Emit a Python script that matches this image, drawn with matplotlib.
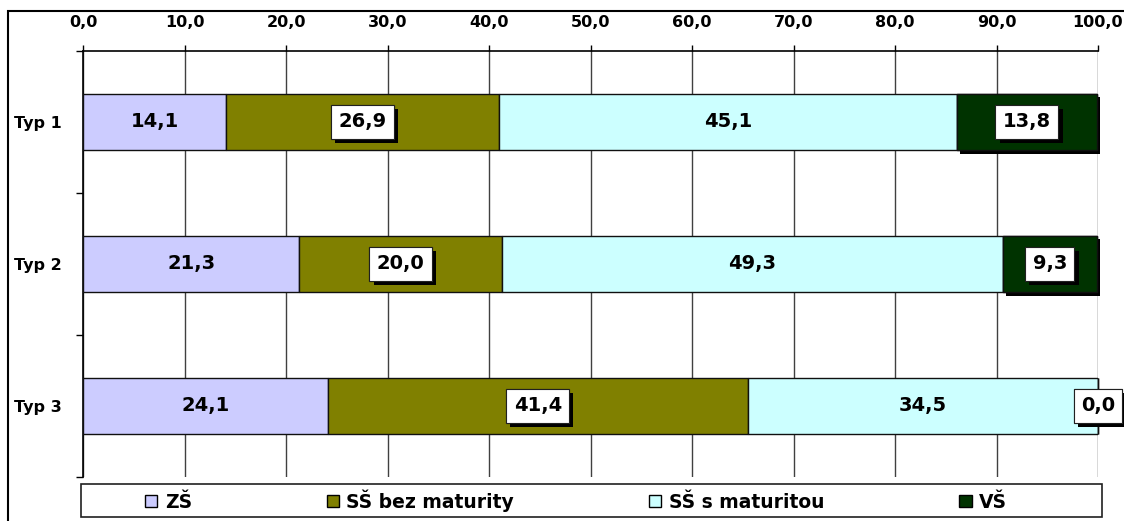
import numpy as np
import matplotlib
matplotlib.use("Agg")
import matplotlib.pyplot as plt
import matplotlib.patheffects as pe
from matplotlib.patches import Rectangle, Patch

# data
types = ["Typ 1", "Typ 2", "Typ 3"]
levels = ["ZŠ", "SŠ bez maturity", "SŠ s maturitou", "VŠ"]
zs = [14.1, 21.3, 24.1]
ss_bez = [26.9, 20.0, 41.4]
ss_mat = [45.1, 49.3, 34.5]
vs = [13.8, 9.3, 0.0]
colors = ["#CCCCFF", "#808000", "#CCFFFF", "#003300"]
boxed = [False, True, False, True]

plt.rcParams["font.family"] = ["DejaVu Sans"]
plt.rcParams["font.weight"] = "bold"

fig = plt.figure(figsize=(11.24, 5.21), dpi=100)
ax = fig.add_axes([83 / 1124, 1 - 477 / 521, 1015 / 1124, 426 / 521])

series = [zs, ss_bez, ss_mat, vs]
y = np.arange(len(types))
left = np.zeros(len(types))

for i, vals in enumerate(series):
    vals = np.array(vals)
    bars = ax.barh(y, vals, left=left, height=0.4, color=colors[i],
                   edgecolor="#101010", linewidth=1, zorder=3, label=levels[i])
    if i == 3:
        for b in bars:
            b.set_clip_on(False)
            b.set_path_effects([
                pe.withSimplePatchShadow(offset=(2.5, -2.5), shadow_rgbFace="black", alpha=1.0),
                pe.Normal()])
    for j, v in enumerate(vals):
        xc = left[j] + v / 2
        txt = f"{v:.1f}".replace(".", ",")
        if boxed[i] or v == 0:
            t = ax.text(xc, y[j], txt, ha="center", va="center", fontsize=14,
                        fontweight="bold", zorder=6,
                        bbox=dict(boxstyle="square,pad=0.38", fc="white",
                                  ec="#202020", lw=0.8))
            t.get_bbox_patch().set_path_effects([
                pe.withSimplePatchShadow(offset=(3, -3), shadow_rgbFace="black", alpha=1.0),
                pe.Normal()])
        else:
            ax.text(xc, y[j], txt, ha="center", va="center", fontsize=14,
                    fontweight="bold", zorder=6)
    left = left + vals

ax.set_xlim(0, 100)
ax.set_ylim(2.5, -0.5)
ax.xaxis.tick_top()
ax.set_xticks(np.arange(0, 101, 10))
ax.set_xticklabels([f"{v:.1f}".replace(".", ",") for v in np.arange(0, 101, 10)])
ax.tick_params(axis="x", length=4, width=1, pad=11, labelsize=11.5, color="black")
ax.set_yticks(y)
ax.set_yticklabels(types)
ax.tick_params(axis="y", which="major", length=0, pad=15, labelsize=11.5)
ax.set_yticks([-0.5, 0.5, 1.5, 2.5], minor=True)
ax.tick_params(axis="y", which="minor", length=5, width=1, color="black")
ax.grid(axis="x", color="#404040", linewidth=1, zorder=0)
ax.set_axisbelow(True)
for s in ["right", "bottom"]:
    ax.spines[s].set_visible(False)
for s in ["left", "top"]:
    ax.spines[s].set_linewidth(1.2)
    ax.spines[s].set_color("black")

# outer frame of chart
fig.patches.append(Rectangle((8 / 1124, -0.05), 1.1, 1 - 11 / 521 + 0.05,
                             transform=fig.transFigure, fill=False,
                             ec="black", lw=1.5, zorder=0))

# legend box
fig.patches.append(Rectangle((81 / 1124, 1 - 517 / 521), 1021 / 1124, 33 / 521,
                             transform=fig.transFigure, fc="white",
                             ec="#202020", lw=1.2, zorder=1))
handles = [Patch(fc=c, ec="black", lw=1) for c in colors]
fig.legend(handles, levels, loc="center left", ncol=4, mode="expand",
           bbox_to_anchor=(145 / 1124, 1 - 517 / 521, 862 / 1124, 33 / 521),
           frameon=False, prop={"size": 13.5, "weight": "bold"},
           handlelength=0.65, handleheight=0.65, handletextpad=0.4,
           borderaxespad=0, borderpad=0)

fig.savefig("out.png", dpi=100)
